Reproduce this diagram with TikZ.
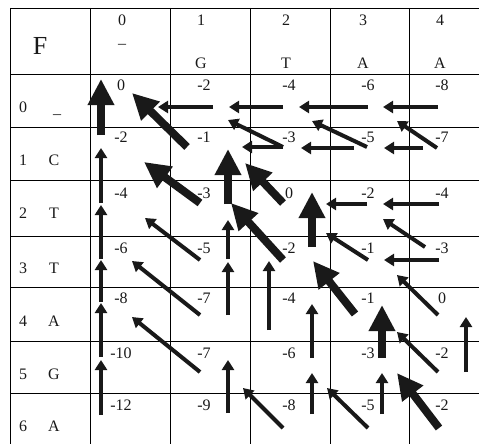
\documentclass[tikz,border=0pt]{standalone}
\usepackage{fontspec}
\setmainfont{Liberation Serif}
\usetikzlibrary{arrows.meta}
\tikzset{
  gridline/.style={line width=0.9pt, black},
  lbl/.style={font=\fontsize{16}{19}\selectfont, inner sep=0pt, text=black!90},
  biglbl/.style={font=\fontsize{26}{30}\selectfont, inner sep=0pt, text=black!90},
  thinarr/.style={line width=4pt, black!90, -{Triangle[length=10pt,width=12pt]}},
  thickarr/.style={line width=8pt, black!90, -{Triangle[length=26pt,width=25pt]}}
}
\begin{document}
\begin{tikzpicture}[x=1pt,y=-1pt]
\useasboundingbox (0,0) rectangle (479,444);
% grid
\foreach \gx [count=\i] in {10,90,170,250,330,409}
  \draw[gridline] (\gx,8) -- (\gx,444);
\foreach \gy [count=\i] in {8,74,127,180,236,287,341,393}
  \draw[gridline] (10,\gy) -- (479,\gy);
% header
\node[biglbl] (F) at (40,46) {F};
\foreach \cx/\num/\ch [count=\i] in {122/0/{},201/1/G,286/2/T,363/3/A,440/4/A}{
  \node[lbl] (cn\i) at (\cx,20) {\num};
  \node[lbl] (cl\i) at (\cx,63) {\ch};
}
\node[lbl] (cdash) at (122,46) {–};
% row labels
\foreach \ry/\num/\ch [count=\i] in {107/0/{},160/1/C,213/2/T,268/3/T,321/4/A,374/5/G,426/6/A}{
  \node[lbl] (rn\i) at (23,\ry) {\num};
  \node[lbl] (rl\i) at (54,\ry) {\ch};
}
\node[lbl, anchor=base] (rus) at (57,113) {\_};
% values
\foreach \ry/\a/\b/\c/\d/\e [count=\r] in {
  85/0/-2/-4/-6/-8,
  137/-2/-1/-3/-5/-7,
  193/-4/-3/0/-2/-4,
  248/-6/-5/-2/-1/-3,
  298/-8/-7/-4/-1/0,
  353/-10/-7/-6/-3/-2,
  405/-12/-9/-8/-5/-2}{
  \node[lbl] (v\r a) at (121,\ry) {\a};
  \node[lbl] (v\r b) at (204,\ry) {\b};
  \node[lbl] (v\r c) at (289,\ry) {\c};
  \node[lbl] (v\r d) at (368,\ry) {\d};
  \node[lbl] (v\r e) at (442,\ry) {\e};
}
% thin arrows
\foreach \n/\xa/\ya/\xb/\yb in {
  h01/213/107/158/107, h02/283/107/229/107, h03/368/107/299/107, h04/438/107/383/107,
  d12/283/147/228/120, h12/283/147/242/147, d13/367/147/312/121, h13/354/148/301/148,
  d14/437/148/397/121, h14/423/148/384/148,
  u20/101/203/101/148, h23/367/204/326/204, h24/439/204/383/204,
  u30/101/259/101/205, d31/200/260/145/218, u31/228/259/228/220, d33/368/260/326/233,
  d34/425/247/383/219, h34/439/260/384/260,
  u40/101/302/101/260, d41/200/315/132/261, u41/228/315/228/262, u42/269/330/269/261,
  d44/438/315/397/275,
  u50/101/357/101/303, d51/200/372/132/317, u52/312/358/312/304, d54/438/372/397/332,
  u54/466/372/466/317,
  u60/101/415/101/360, u61/228/413/228/360, d62/283/428/243/388, u62/312/414/312/373,
  d63/368/428/327/388, u63/382/414/382/373}{
  \coordinate (\n s) at (\xa,\ya);
  \coordinate (\n t) at (\xb,\yb);
  \draw[thinarr] (\n s) -- (\n t);
}
% thick arrows
\foreach \n/\xa/\ya/\xb/\yb in {
  U10/101/135/101/79, D11/187/147/132/93, D21/200/203/144/162, U21/228/204/228/149,
  D22/283/203/245/163, D32/283/260/231/203, U32/312/247/312/192, D43/355/314/313/261,
  U53/382/358/382/305, D64/439/428/397/373}{
  \coordinate (\n s) at (\xa,\ya);
  \coordinate (\n t) at (\xb,\yb);
  \draw[thickarr] (\n s) -- (\n t);
}
\end{tikzpicture}
\end{document}
